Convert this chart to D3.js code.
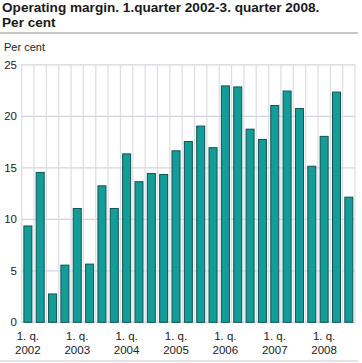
<!DOCTYPE html>
<html>
<head>
<meta charset="utf-8">
<script src="https://cdn.jsdelivr.net/npm/d3@7"></script>
<style>
  body { margin: 0; background: #fff; }
  svg { font-family: Arial, "Liberation Sans", sans-serif; }
</style>
</head>
<body>
<svg id="chart" width="362" height="363"></svg>
<script>
const years = ["2002", "2003", "2004", "2005", "2006", "2007", "2008"];
const quarters = ["Q1", "Q2", "Q3", "Q4"];
const margin = [9.4, 14.6, 2.8, 5.6, 11.1, 5.7, 13.3, 11.1, 16.4, 13.7, 14.5, 14.4,
  16.7, 17.6, 19.1, 17.0, 23.0, 22.9, 18.8, 17.8, 21.1, 22.5, 20.8, 15.2,
  18.1, 22.4, 12.2];
const yTicks = [0, 5, 10, 15, 20, 25];

let periods = [];
years.forEach(y => quarters.forEach(q => periods.push(y + q)));
periods = periods.slice(0, margin.length);
const data = periods.map((p, i) => ({ period: p, value: margin[i] }));

const svg = d3.select("svg#chart");
const width = +svg.attr("width");

// title
svg.append("text").attr("x", 2).attr("y", 11.5)
  .style("font-size", "13.6px").style("font-weight", "bold").style("fill", "#1a1a1a")
  .text("Operating margin. 1.quarter 2002-3. quarter 2008.");
svg.append("text").attr("x", 2).attr("y", 26.5)
  .style("font-size", "13.6px").style("font-weight", "bold").style("fill", "#1a1a1a")
  .text("Per cent");
svg.append("line").attr("x1", 0).attr("x2", 358).attr("y1", 33).attr("y2", 33)
  .style("stroke", "#b4b4b4").style("stroke-width", 1.5);
svg.append("line").attr("x1", 0).attr("x2", 358).attr("y1", 361).attr("y2", 361)
  .style("stroke", "#c8c8c8").style("stroke-width", 1);

svg.append("text").attr("x", 4).attr("y", 50.5)
  .style("font-size", "11px").style("fill", "#222")
  .text("Per cent");

const x = d3.scaleBand().domain(periods).range([21.7, 355])
  .paddingInner(0.27).paddingOuter(0.135);
const y = d3.scaleLinear().domain([0, 25]).range([322.3, 64.8]);

const gap = (x.step() - x.bandwidth()) / 2;

// gridlines
const grid = svg.append("g").attr("id", "grid");
grid.selectAll("line.h").data(yTicks).join("line").attr("class", "h")
  .attr("x1", 21.7).attr("x2", 355)
  .attr("y1", d => y(d)).attr("y2", d => y(d))
  .style("stroke", "#d4d4de").style("stroke-width", 1.2);
const bounds = periods.map(p => x(p) - gap).concat([x(periods[periods.length - 1]) + x.bandwidth() + gap]);
grid.selectAll("line.v").data(bounds).join("line").attr("class", "v")
  .attr("x1", d => d).attr("x2", d => d)
  .attr("y1", y(25)).attr("y2", y(0))
  .style("stroke", "#dcdce4").style("stroke-width", 1.2);

// y axis labels
svg.append("g").selectAll("text").data(yTicks).join("text")
  .attr("x", 17).attr("y", d => y(d) + 4)
  .attr("text-anchor", "end")
  .style("font-size", "11.5px").style("fill", "#222")
  .text(d => d);

// bars
svg.append("g").selectAll("rect").data(data).join("rect")
  .attr("x", d => x(d.period) + 0.5)
  .attr("y", d => y(d.value) + 0.5)
  .attr("width", x.bandwidth() - 1)
  .attr("height", d => y(0) - y(d.value) - 0.5)
  .style("fill", "#149c98")
  .style("stroke", "#0e5553")
  .style("stroke-width", 1);

// x labels at first quarters
const q1 = data.filter(d => d.period.endsWith("Q1"));
const xl = svg.append("g");
xl.selectAll("text.q").data(q1).join("text").attr("class", "q")
  .attr("x", d => x(d.period) + x.bandwidth() / 2).attr("y", 340)
  .attr("text-anchor", "middle")
  .style("font-size", "11.5px").style("fill", "#222")
  .text("1. q.");
xl.selectAll("text.y").data(q1).join("text").attr("class", "y")
  .attr("x", d => x(d.period) + x.bandwidth() / 2).attr("y", 354)
  .attr("text-anchor", "middle")
  .style("font-size", "11.5px").style("fill", "#222")
  .text(d => d.period.slice(0, 4));
</script>
</body>
</html>
